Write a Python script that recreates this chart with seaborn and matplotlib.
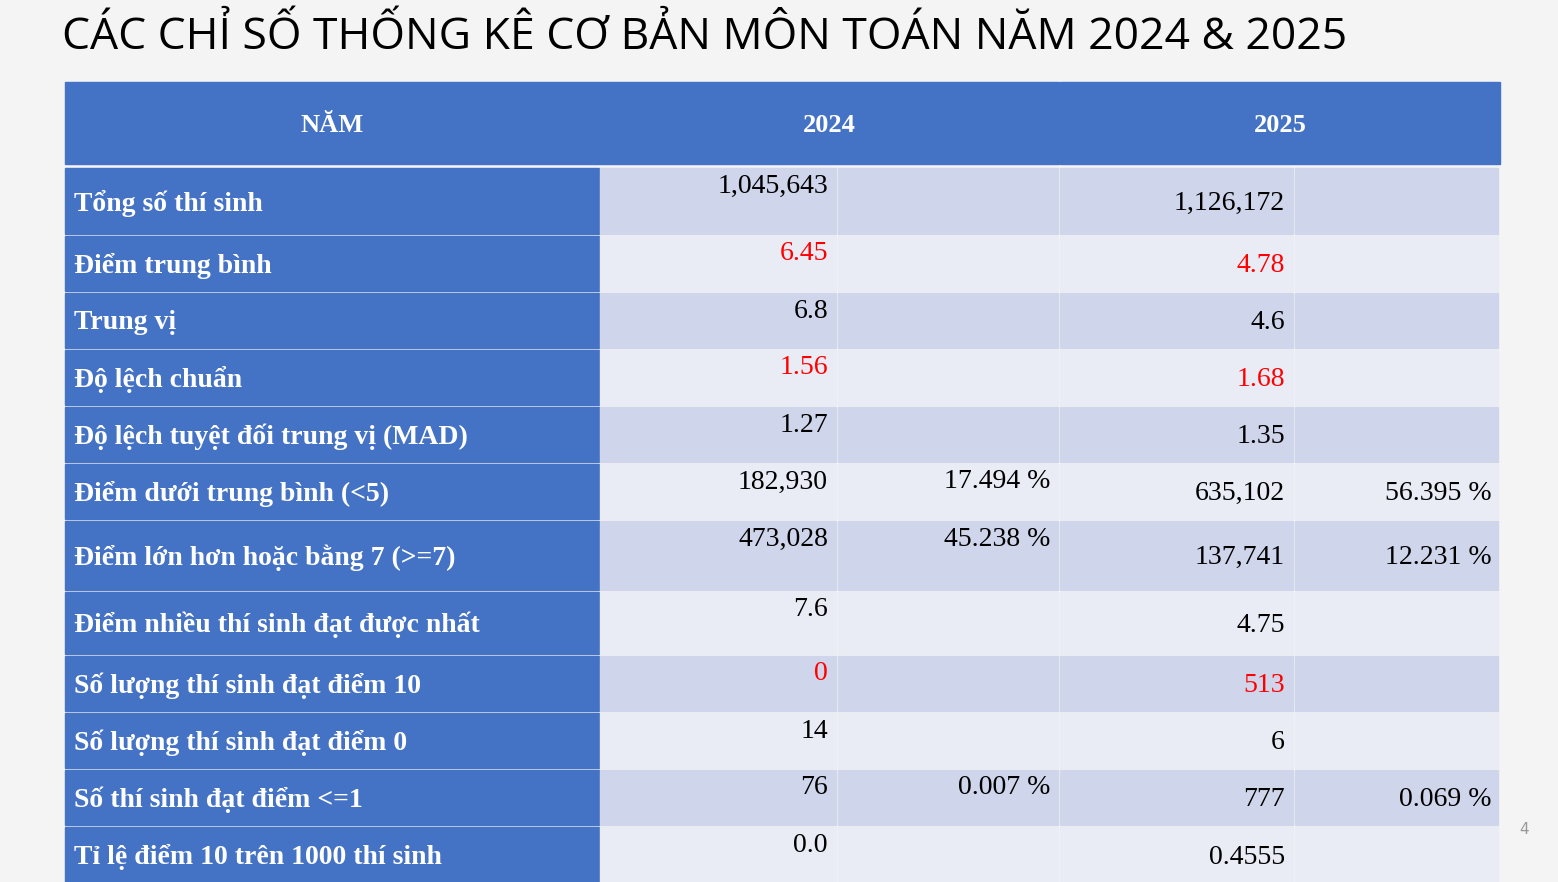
import matplotlib.pyplot as plt
import seaborn as sns
from matplotlib.patches import Rectangle

sns.set_theme(style="white")

title = "CÁC CHỈ SỐ THỐNG KÊ CƠ BẢN MÔN TOÁN NĂM 2024 & 2025"
header = ["NĂM", "2024", "2025"]
row_labels = ["Tổng số thí sinh", "Điểm trung bình", "Trung vị", "Độ lệch chuẩn",
              "Độ lệch tuyệt đối trung vị (MAD)", "Điểm dưới trung bình (<5)",
              "Điểm lớn hơn hoặc bằng 7 (>=7)", "Điểm nhiều thí sinh đạt được nhất",
              "Số lượng thí sinh đạt điểm 10", "Số lượng thí sinh đạt điểm 0",
              "Số thí sinh đạt điểm <=1", "Tỉ lệ điểm 10 trên 1000 thí sinh"]
val_2024 = ["1,045,643", "6.45", "6.8", "1.56", "1.27", "182,930", "473,028",
            "7.6", "0", "14", "76", "0.0"]
pct_2024 = ["", "", "", "", "", "17.494 %", "45.238 %", "", "", "", "0.007 %", ""]
val_2025 = ["1,126,172", "4.78", "4.6", "1.68", "1.35", "635,102", "137,741",
            "4.75", "513", "6", "777", "0.4555"]
pct_2025 = ["", "", "", "", "", "56.395 %", "12.231 %", "", "", "", "0.069 %", ""]
red_rows = [1, 3, 8]

# layout in pixels
col_x = [65, 600, 838, 1060, 1295, 1500]
row_y = [168, 236, 293, 350, 407, 464, 521, 592, 656, 713, 770, 827, 885]
blue = "#4472C4"
dark, light = "#CFD5EA", "#E9EBF5"

fig = plt.figure(figsize=(15.58, 8.82), dpi=100, facecolor="#F4F4F4")
ax = fig.add_axes([0, 0, 1, 1])
ax.set_xlim(0, 1558)
ax.set_ylim(882, 0)
ax.axis("off")

ax.text(62, 38, title, fontsize=32, family="Open Sans", va="center", ha="left", color="black")

serif = "Liberation Serif"
# header
ax.add_patch(Rectangle((65, 82), 535, 82, color=blue))
ax.add_patch(Rectangle((600, 82), 459, 82, color=blue))
ax.add_patch(Rectangle((1060, 82), 440, 82, color=blue))
for h, x in zip(header, [332, 829, 1280]):
    ax.text(x, 125, h, fontsize=19, family=serif, weight="bold", color="white", ha="center", va="center")

for i, lab in enumerate(row_labels):
    top, bot = row_y[i], row_y[i + 1] - 2
    hgt = bot - top
    fill = dark if i % 2 == 0 else light
    ax.add_patch(Rectangle((65, top), 534, hgt, color=blue))
    for c in range(1, 5):
        ax.add_patch(Rectangle((col_x[c], top), col_x[c + 1] - col_x[c] - 1.5, hgt, color=fill))
    mid = top + hgt / 2
    ax.text(74, mid + 2, lab, fontsize=20, family=serif, weight="bold", color="white", ha="left", va="center")
    col = "red" if i in red_rows else "black"
    ax.text(828, top + 18, val_2024[i], fontsize=20, family=serif, color=col, ha="right", va="center")
    ax.text(1050, top + 18, pct_2024[i], fontsize=20, family=serif, color="black", ha="right", va="center")
    ax.text(1285, mid + 2, val_2025[i], fontsize=20, family=serif, color=col, ha="right", va="center")
    ax.text(1492, mid + 2, pct_2025[i], fontsize=20, family=serif, color="black", ha="right", va="center")

ax.text(1524, 829, "4", fontsize=11, color="#999999", ha="center", va="center")

fig.savefig("out.png", dpi=100, facecolor=fig.get_facecolor())
